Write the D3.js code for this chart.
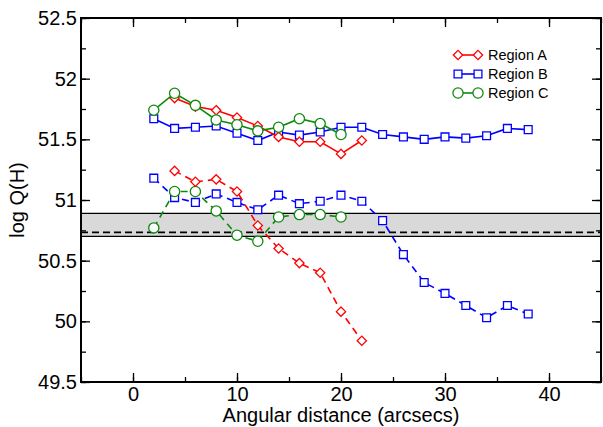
<!DOCTYPE html>
<html lang="en">
  <head>
    <meta charset="UTF-8" />
    <title>log Q(H) vs angular distance</title>
    <script src="https://d3js.org/d3.v7.min.js"></script>
    <style>
      body { margin: 0; background: #fff; }
      text { font-family: "Liberation Sans", Arial, sans-serif; }
    </style>
  </head>
  <body>
    <div id="chart"></div>
    <script>
      // data
      const distUpperA = [4, 6, 8, 10, 12, 14, 16, 18, 20, 22];
      const regionAUpper = [51.84, 51.77, 51.74, 51.68, 51.61, 51.52, 51.48, 51.48, 51.38, 51.49];
      const regionALower = [51.24, 51.15, 51.17, 51.07, 50.79, 50.60, 50.48, 50.40, 50.08, 49.84];

      const distB = [2, 4, 6, 8, 10, 12, 14, 16, 18, 20, 22, 24, 26, 28, 30, 32, 34, 36, 38];
      const regionBUpper = [51.67, 51.59, 51.60, 51.61, 51.55, 51.49, 51.56, 51.535, 51.56, 51.60,
        51.60, 51.54, 51.52, 51.50, 51.52, 51.51, 51.53, 51.59, 51.58];
      const regionBLower = [51.18, 51.02, 50.98, 51.05, 50.98, 50.92, 51.04, 50.97, 50.99, 51.04,
        50.99, 50.83, 50.55, 50.32, 50.23, 50.13, 50.03, 50.13, 50.06];

      const distC = [2, 4, 6, 8, 10, 12, 14, 16, 18, 20];
      const regionCUpper = [51.74, 51.88, 51.78, 51.66, 51.62, 51.57, 51.60, 51.67, 51.63, 51.54];
      const regionCLower = [50.77, 51.07, 51.07, 50.91, 50.71, 50.66, 50.86, 50.88, 50.88, 50.86];

      // reference band and line
      const bandLow = 50.70, bandHigh = 50.89, refLine = 50.733;

      const xTicks = [0, 10, 20, 30, 40];
      const yTicks = [49.5, 50, 50.5, 51, 51.5, 52, 52.5];
      const legendNames = ["Region A", "Region B", "Region C"];

      const W = 603, H = 427;
      const margin = { top: 18, right: 2, bottom: 45, left: 81 };

      const svg = d3.select("#chart").append("svg")
        .attr("width", W).attr("height", H);

      const x = d3.scaleLinear().domain([-5, 45]).range([margin.left, W - margin.right]);
      const y = d3.scaleLinear().domain([49.5, 52.5]).range([H - margin.bottom, margin.top]);

      // grey band
      svg.append("rect")
        .attr("x", x(-5)).attr("width", x(45) - x(-5))
        .attr("y", y(bandHigh)).attr("height", y(bandLow) - y(bandHigh))
        .attr("fill", "#d9d9d9");
      [bandLow, bandHigh].forEach(v => {
        svg.append("line")
          .attr("x1", x(-5)).attr("x2", x(45))
          .attr("y1", y(v)).attr("y2", y(v))
          .attr("stroke", "#000").attr("stroke-width", 1.3);
      });
      svg.append("line")
        .attr("x1", x(-5)).attr("x2", x(45))
        .attr("y1", y(refLine)).attr("y2", y(refLine))
        .attr("stroke", "#000").attr("stroke-width", 1.8)
        .attr("stroke-dasharray", "7,4");

      // axes (ticks inward, on all four sides)
      function addAxis(axis, tx, ty) {
        const g = svg.append("g").attr("transform", `translate(${tx},${ty})`).call(axis);
        g.select(".domain").remove();
        g.selectAll("line").attr("stroke", "#000").attr("stroke-width", 1.3);
        g.selectAll("text").attr("font-size", 20).attr("fill", "#000");
        return g;
      }
      const minorX = d3.range(-5, 46, 5);
      const minorY = d3.range(49.5, 52.51, 0.25);

      addAxis(d3.axisBottom(x).tickValues(minorX).tickSize(-5).tickFormat(""), 0, y(49.5));
      addAxis(d3.axisBottom(x).tickValues(xTicks).tickSize(-9).tickPadding(5).tickFormat(d3.format("d")), 0, y(49.5));
      addAxis(d3.axisTop(x).tickValues(minorX).tickSize(-5).tickFormat(""), 0, y(52.5));
      addAxis(d3.axisTop(x).tickValues(xTicks).tickSize(-9).tickFormat(""), 0, y(52.5));
      addAxis(d3.axisLeft(y).tickValues(minorY).tickSize(-5).tickFormat(""), x(-5), 0);
      addAxis(d3.axisLeft(y).tickValues(yTicks).tickSize(-9).tickPadding(4).tickFormat(d3.format("")), x(-5), 0);
      addAxis(d3.axisRight(y).tickValues(minorY).tickSize(-5).tickFormat(""), x(45), 0);
      addAxis(d3.axisRight(y).tickValues(yTicks).tickSize(-9).tickFormat(""), x(45), 0);

      svg.append("rect")
        .attr("x", x(-5)).attr("y", y(52.5))
        .attr("width", x(45) - x(-5)).attr("height", y(49.5) - y(52.5))
        .attr("fill", "none").attr("stroke", "#000").attr("stroke-width", 2);

      // axis titles
      svg.append("text")
        .attr("x", x(20)).attr("y", 422)
        .attr("text-anchor", "middle").attr("font-size", 20)
        .text("Angular distance (arcsecs)");
      svg.append("text")
        .attr("transform", `translate(24,${y(51)}) rotate(-90)`)
        .attr("text-anchor", "middle").attr("font-size", 20)
        .text("log Q(H)");

      // symbols
      const sym = {
        A: d3.symbol().type(d3.symbolDiamond2).size(55),
        B: d3.symbol().type(d3.symbolSquare2).size(78),
        C: d3.symbol().type(d3.symbolCircle).size(82)
      };
      const colors = { A: "#ff0000", B: "#0000ff", C: "#0d8a0d" };

      function drawSeries(xs, ys, key, dashed) {
        const pts = xs.map((d, i) => [d, ys[i]]);
        svg.append("path")
          .datum(pts)
          .attr("fill", "none")
          .attr("stroke", colors[key])
          .attr("stroke-width", 1.6)
          .attr("stroke-dasharray", dashed ? "7,5" : null)
          .attr("d", d3.line().x(d => x(d[0])).y(d => y(d[1])));
        svg.append("g").selectAll("path")
          .data(pts)
          .join("path")
          .attr("transform", d => `translate(${x(d[0])},${y(d[1])})`)
          .attr("d", sym[key]())
          .attr("fill", "#fff")
          .attr("stroke", colors[key])
          .attr("stroke-width", 1.3);
      }

      drawSeries(distB, regionBUpper, "B", false);
      drawSeries(distUpperA, regionAUpper, "A", false);
      drawSeries(distC, regionCUpper, "C", false);
      drawSeries(distB, regionBLower, "B", true);
      drawSeries(distC, regionCLower, "C", true);
      drawSeries(distUpperA, regionALower, "A", true);

      // legend
      const keys = ["A", "B", "C"];
      const leg = svg.append("g");
      keys.forEach((k, i) => {
        const ly = 55 + i * 19;
        leg.append("line")
          .attr("x1", 458).attr("x2", 478).attr("y1", ly).attr("y2", ly)
          .attr("stroke", colors[k]).attr("stroke-width", 1.6);
        [458, 478].forEach(lx => {
          leg.append("path")
            .attr("transform", `translate(${lx},${ly})`)
            .attr("d", sym[k]())
            .attr("fill", "#fff").attr("stroke", colors[k]).attr("stroke-width", 1.3);
        });
        leg.append("text")
          .attr("x", 488).attr("y", ly + 5)
          .attr("font-size", 14.5)
          .text(legendNames[i]);
      });
    </script>
  </body>
</html>
